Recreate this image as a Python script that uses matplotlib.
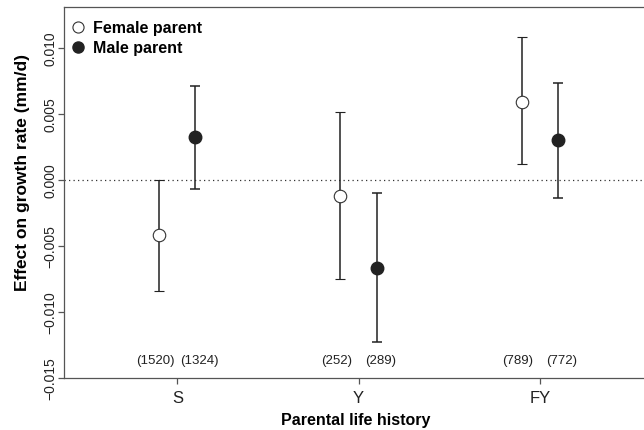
import numpy as np
import matplotlib
matplotlib.use("Agg")
import matplotlib.pyplot as plt
from matplotlib.lines import Line2D

groups = ["S", "Y", "FY"]
female_est = [-0.0042, -0.0012, 0.0059]
female_lo = [-0.0084, -0.0075, 0.0012]
female_hi = [0.0000, 0.0051, 0.0108]
male_est = [0.0032, -0.0067, 0.0030]
male_lo = [-0.0007, -0.0123, -0.0014]
male_hi = [0.0071, -0.0010, 0.0073]
female_n = ["(1520)", "(252)", "(789)"]
male_n = ["(1324)", "(289)", "(772)"]

plt.rcParams["font.family"] = ["Liberation Sans", "DejaVu Sans"]

fig = plt.figure(figsize=(6.44, 4.31), dpi=100)
ax = fig.add_axes([0.0994, 0.1206, 0.905, 0.8608])

x = np.arange(1, len(groups) + 1)
off = 0.1       # point offset
n_off = 0.12    # sample size label offset
col = "#222222"

fe = np.array(female_est)
me = np.array(male_est)
ferr = [fe - np.array(female_lo), np.array(female_hi) - fe]
merr = [me - np.array(male_lo), np.array(male_hi) - me]

ax.axhline(0, color="#333333", lw=0.9, ls=(0, (1, 2.6)), zorder=1)

ax.errorbar(x - off, fe, yerr=ferr, fmt="o", ms=9, mfc="white", mec="#333333",
            mew=0.8, ecolor=col, elinewidth=1.1, capsize=3.5, capthick=1.1, zorder=3)
ax.errorbar(x + off, me, yerr=merr, fmt="o", ms=9, mfc=col, mec=col,
            ecolor=col, elinewidth=1.1, capsize=3.5, capthick=1.1, zorder=3)

for xi, t in zip(x - n_off, female_n):
    ax.text(xi, -0.0136, t, ha="center", va="center", fontsize=9.5, color="#222222")
for xi, t in zip(x + n_off, male_n):
    ax.text(xi, -0.0136, t, ha="center", va="center", fontsize=9.5, color="#222222")

ax.set_xlim(0.375, 3.59)
ax.set_ylim(-0.015, 0.01307)
ax.set_xticks(x)
ax.set_xticklabels(groups, fontsize=12)
yt = [-0.015, -0.010, -0.005, 0.0, 0.005, 0.010]
ax.set_yticks(yt)
ax.set_yticklabels(["%.3f" % v if v >= 0 else "\u2212%.3f" % -v for v in yt],
                   rotation=90, va="center", fontsize=10)
ax.tick_params(direction="out", length=4.3, width=0.9, colors="#555555", labelcolor="#222222")
ax.tick_params(axis="x", pad=4.5)
ax.tick_params(axis="y", pad=0.5)

for s in ["left", "bottom", "top"]:
    ax.spines[s].set_color("#555555")
    ax.spines[s].set_linewidth(0.9)
ax.spines["right"].set_visible(False)

ax.set_xlabel("Parental life history", fontsize=11.5, fontweight="bold", labelpad=5)
ax.set_ylabel("Effect on growth rate (mm/d)", fontsize=12.5, fontweight="bold")
ax.yaxis.set_label_coords(-0.058, 0.558)

handles = [
    Line2D([], [], ls="none", marker="o", ms=8, mfc="white", mec="#333333", mew=0.8),
    Line2D([], [], ls="none", marker="o", ms=8, mfc=col, mec=col),
]
leg = ax.legend(handles, ["Female parent", "Male parent"], loc="upper left",
                bbox_to_anchor=(0.0, 0.99), frameon=False,
                fontsize=11.5, handletextpad=0.6, borderaxespad=0.2, borderpad=0.4,
                labelspacing=0.3, handlelength=0.6)
for t in leg.get_texts():
    t.set_fontweight("bold")

fig.savefig("out.png", dpi=100)
